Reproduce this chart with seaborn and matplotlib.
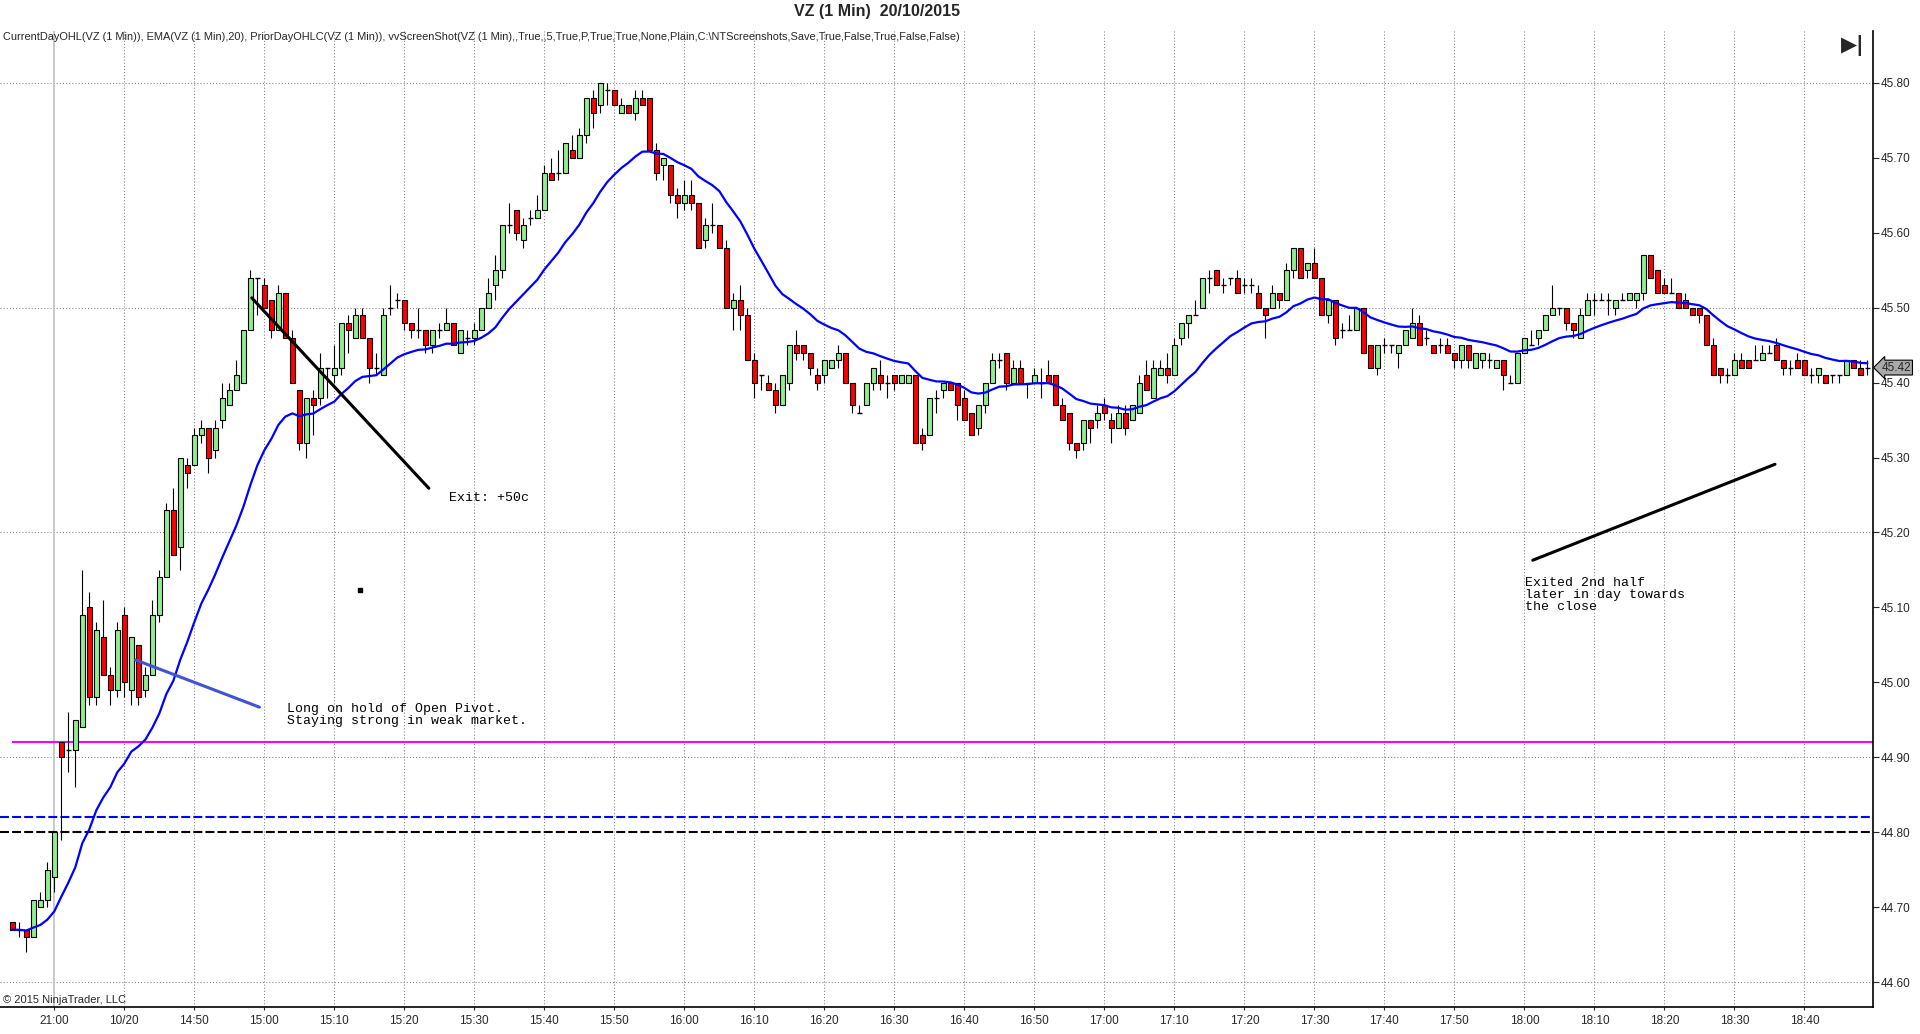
"""
VZ 1-minute candles for 20/10/2015 with EMA(20) and day levels,
redrawn in the style of the NinjaTrader screenshot.
"""

import numpy as np
import pandas as pd
import matplotlib
matplotlib.use("Agg")
import matplotlib.pyplot as plt
import matplotlib.transforms as mtransforms
import seaborn as sns

# ---- data (one entry per 1-minute bar) ----
opens = [
    44.68, 44.67, 44.67, 44.66, 44.70, 44.71, 44.74, 44.92, 44.91, 44.91,
    44.94, 45.10, 44.98, 45.06, 45.01, 44.99, 45.09, 44.99, 45.05, 44.99,
    45.01, 45.09, 45.14, 45.23, 45.18, 45.29, 45.29, 45.33, 45.34, 45.31,
    45.35, 45.37, 45.39, 45.40, 45.47, 45.54, 45.53, 45.51, 45.47, 45.52,
    45.46, 45.39, 45.32, 45.38, 45.38, 45.42, 45.41, 45.42, 45.48, 45.46,
    45.49, 45.46, 45.42, 45.41, 45.50, 45.51, 45.51, 45.48, 45.47, 45.47,
    45.45, 45.47, 45.47, 45.48, 45.44, 45.46, 45.46, 45.47, 45.50, 45.53,
    45.55, 45.61, 45.63, 45.59, 45.62, 45.62, 45.63, 45.68, 45.68, 45.68,
    45.71, 45.70, 45.73, 45.78, 45.77, 45.79, 45.79, 45.76, 45.77, 45.76,
    45.78, 45.78, 45.71, 45.69, 45.69, 45.65, 45.64, 45.65, 45.64, 45.59,
    45.61, 45.61, 45.58, 45.50, 45.51, 45.49, 45.43, 45.41, 45.40, 45.39,
    45.37, 45.40, 45.45, 45.45, 45.44, 45.41, 45.41, 45.42, 45.43, 45.44,
    45.40, 45.36, 45.37, 45.40, 45.41, 45.40, 45.41, 45.40, 45.40, 45.41,
    45.33, 45.33, 45.38, 45.39, 45.40, 45.40, 45.38, 45.36, 45.34, 45.37,
    45.40, 45.43, 45.44, 45.40, 45.42, 45.40, 45.40, 45.40, 45.41, 45.41,
    45.37, 45.36, 45.32, 45.32, 45.35, 45.35, 45.37, 45.35, 45.34, 45.36,
    45.35, 45.36, 45.41, 45.38, 45.41, 45.42, 45.41, 45.46, 45.48, 45.49,
    45.50, 45.54, 45.55, 45.53, 45.54, 45.54, 45.53, 45.53, 45.52, 45.50,
    45.50, 45.52, 45.51, 45.55, 45.58, 45.55, 45.56, 45.54, 45.49, 45.51,
    45.47, 45.47, 45.47, 45.50, 45.45, 45.42, 45.45, 45.45, 45.44, 45.45,
    45.46, 45.48, 45.46, 45.45, 45.45, 45.45, 45.44, 45.43, 45.45, 45.42,
    45.43, 45.43, 45.42, 45.43, 45.40, 45.40, 45.44, 45.45, 45.46, 45.47,
    45.49, 45.50, 45.50, 45.48, 45.46, 45.49, 45.51, 45.51, 45.51, 45.50,
    45.51, 45.51, 45.51, 45.52, 45.57, 45.55, 45.53, 45.52, 45.52, 45.51,
    45.50, 45.50, 45.49, 45.45, 45.42, 45.41, 45.41, 45.43, 45.43, 45.43,
    45.43, 45.44, 45.45, 45.43, 45.42, 45.43, 45.43, 45.41, 45.41, 45.41,
    45.41, 45.41, 45.41, 45.43, 45.42, 45.42,
]
highs = [
    44.68, 44.68, 44.67, 44.71, 44.72, 44.76, 44.80, 44.92, 44.96, 44.95,
    45.15, 45.12, 45.08, 45.11, 45.02, 45.08, 45.10, 45.06, 45.05, 45.02,
    45.11, 45.15, 45.24, 45.26, 45.30, 45.30, 45.34, 45.35, 45.34, 45.35,
    45.40, 45.40, 45.43, 45.47, 45.55, 45.54, 45.54, 45.51, 45.53, 45.52,
    45.47, 45.39, 45.38, 45.39, 45.44, 45.42, 45.45, 45.48, 45.49, 45.50,
    45.50, 45.46, 45.44, 45.50, 45.53, 45.52, 45.51, 45.48, 45.50, 45.47,
    45.47, 45.48, 45.50, 45.48, 45.47, 45.47, 45.48, 45.50, 45.54, 45.57,
    45.61, 45.64, 45.63, 45.62, 45.63, 45.65, 45.69, 45.70, 45.71, 45.72,
    45.73, 45.74, 45.78, 45.79, 45.80, 45.80, 45.79, 45.78, 45.77, 45.79,
    45.79, 45.78, 45.72, 45.70, 45.69, 45.66, 45.67, 45.67, 45.64, 45.62,
    45.64, 45.61, 45.59, 45.52, 45.53, 45.50, 45.44, 45.41, 45.41, 45.40,
    45.41, 45.45, 45.47, 45.45, 45.44, 45.42, 45.43, 45.43, 45.45, 45.44,
    45.40, 45.37, 45.40, 45.42, 45.43, 45.41, 45.41, 45.41, 45.41, 45.41,
    45.34, 45.38, 45.39, 45.40, 45.40, 45.40, 45.39, 45.36, 45.37, 45.40,
    45.44, 45.44, 45.44, 45.43, 45.43, 45.40, 45.42, 45.42, 45.43, 45.41,
    45.38, 45.36, 45.32, 45.35, 45.35, 45.37, 45.38, 45.36, 45.37, 45.37,
    45.37, 45.41, 45.43, 45.43, 45.43, 45.44, 45.46, 45.48, 45.49, 45.51,
    45.54, 45.55, 45.55, 45.54, 45.54, 45.55, 45.54, 45.54, 45.53, 45.50,
    45.53, 45.52, 45.56, 45.58, 45.58, 45.56, 45.58, 45.54, 45.51, 45.51,
    45.48, 45.49, 45.50, 45.50, 45.45, 45.45, 45.46, 45.45, 45.45, 45.47,
    45.50, 45.49, 45.47, 45.45, 45.46, 45.46, 45.44, 45.45, 45.45, 45.44,
    45.44, 45.44, 45.43, 45.43, 45.41, 45.44, 45.46, 45.47, 45.47, 45.49,
    45.53, 45.50, 45.50, 45.48, 45.50, 45.52, 45.52, 45.52, 45.52, 45.51,
    45.52, 45.52, 45.52, 45.57, 45.57, 45.55, 45.54, 45.54, 45.52, 45.52,
    45.50, 45.50, 45.49, 45.46, 45.42, 45.42, 45.44, 45.44, 45.43, 45.45,
    45.45, 45.45, 45.46, 45.43, 45.43, 45.44, 45.43, 45.42, 45.42, 45.41,
    45.41, 45.41, 45.43, 45.43, 45.43, 45.43,
]
lows = [
    44.67, 44.66, 44.64, 44.66, 44.70, 44.70, 44.72, 44.79, 44.88, 44.86,
    44.94, 44.97, 44.97, 45.01, 44.97, 44.98, 44.98, 44.97, 44.97, 44.98,
    45.01, 45.08, 45.14, 45.17, 45.15, 45.26, 45.29, 45.32, 45.28, 45.30,
    45.34, 45.37, 45.39, 45.40, 45.47, 45.49, 45.50, 45.46, 45.47, 45.46,
    45.40, 45.31, 45.30, 45.33, 45.37, 45.38, 45.40, 45.41, 45.44, 45.46,
    45.46, 45.40, 45.41, 45.41, 45.49, 45.50, 45.47, 45.46, 45.46, 45.44,
    45.44, 45.46, 45.47, 45.45, 45.44, 45.45, 45.45, 45.47, 45.50, 45.51,
    45.54, 45.60, 45.59, 45.58, 45.61, 45.62, 45.63, 45.67, 45.67, 45.68,
    45.70, 45.70, 45.72, 45.74, 45.76, 45.77, 45.77, 45.76, 45.76, 45.75,
    45.77, 45.71, 45.67, 45.67, 45.64, 45.62, 45.63, 45.63, 45.58, 45.58,
    45.60, 45.58, 45.50, 45.47, 45.47, 45.43, 45.38, 45.39, 45.39, 45.36,
    45.37, 45.39, 45.43, 45.43, 45.41, 45.39, 45.40, 45.42, 45.42, 45.40,
    45.36, 45.36, 45.37, 45.39, 45.39, 45.38, 45.39, 45.40, 45.40, 45.32,
    45.31, 45.33, 45.36, 45.38, 45.39, 45.35, 45.35, 45.33, 45.33, 45.36,
    45.40, 45.42, 45.39, 45.40, 45.40, 45.38, 45.40, 45.38, 45.40, 45.37,
    45.35, 45.31, 45.30, 45.31, 45.32, 45.34, 45.35, 45.32, 45.34, 45.33,
    45.35, 45.36, 45.39, 45.38, 45.41, 45.40, 45.41, 45.45, 45.46, 45.49,
    45.50, 45.52, 45.53, 45.52, 45.53, 45.52, 45.52, 45.52, 45.50, 45.46,
    45.50, 45.50, 45.51, 45.54, 45.54, 45.54, 45.54, 45.49, 45.48, 45.45,
    45.46, 45.47, 45.47, 45.44, 45.42, 45.41, 45.44, 45.44, 45.42, 45.45,
    45.46, 45.45, 45.45, 45.44, 45.44, 45.44, 45.42, 45.42, 45.42, 45.42,
    45.42, 45.42, 45.42, 45.39, 45.40, 45.40, 45.44, 45.45, 45.45, 45.47,
    45.49, 45.49, 45.47, 45.46, 45.46, 45.49, 45.49, 45.51, 45.49, 45.49,
    45.51, 45.51, 45.50, 45.51, 45.54, 45.52, 45.52, 45.52, 45.50, 45.50,
    45.49, 45.48, 45.45, 45.41, 45.40, 45.40, 45.41, 45.42, 45.42, 45.43,
    45.43, 45.44, 45.43, 45.41, 45.41, 45.42, 45.41, 45.40, 45.40, 45.40,
    45.40, 45.40, 45.41, 45.42, 45.41, 45.41,
]
closes = [
    44.67, 44.67, 44.66, 44.71, 44.71, 44.75, 44.80, 44.90, 44.91, 44.95,
    45.09, 44.98, 45.07, 45.01, 44.99, 45.07, 45.00, 45.06, 44.98, 45.01,
    45.09, 45.14, 45.23, 45.17, 45.30, 45.28, 45.33, 45.34, 45.30, 45.34,
    45.38, 45.39, 45.41, 45.47, 45.54, 45.54, 45.50, 45.47, 45.52, 45.46,
    45.40, 45.32, 45.38, 45.37, 45.42, 45.42, 45.42, 45.48, 45.47, 45.49,
    45.46, 45.42, 45.42, 45.49, 45.50, 45.51, 45.48, 45.47, 45.47, 45.45,
    45.47, 45.47, 45.48, 45.45, 45.47, 45.46, 45.47, 45.50, 45.52, 45.55,
    45.61, 45.61, 45.60, 45.61, 45.62, 45.63, 45.68, 45.67, 45.68, 45.72,
    45.70, 45.73, 45.78, 45.76, 45.80, 45.79, 45.77, 45.77, 45.76, 45.78,
    45.77, 45.71, 45.68, 45.70, 45.65, 45.64, 45.65, 45.64, 45.58, 45.61,
    45.61, 45.58, 45.50, 45.51, 45.49, 45.43, 45.40, 45.41, 45.39, 45.37,
    45.41, 45.45, 45.44, 45.44, 45.42, 45.40, 45.43, 45.43, 45.44, 45.40,
    45.37, 45.36, 45.40, 45.42, 45.40, 45.40, 45.40, 45.41, 45.41, 45.32,
    45.32, 45.38, 45.38, 45.40, 45.39, 45.37, 45.35, 45.33, 45.37, 45.40,
    45.43, 45.43, 45.40, 45.42, 45.40, 45.40, 45.41, 45.40, 45.40, 45.37,
    45.35, 45.32, 45.31, 45.35, 45.34, 45.36, 45.36, 45.34, 45.36, 45.34,
    45.37, 45.40, 45.39, 45.42, 45.42, 45.41, 45.45, 45.48, 45.49, 45.49,
    45.54, 45.54, 45.53, 45.53, 45.54, 45.52, 45.53, 45.53, 45.50, 45.49,
    45.52, 45.51, 45.55, 45.58, 45.54, 45.56, 45.54, 45.49, 45.51, 45.46,
    45.47, 45.47, 45.50, 45.44, 45.42, 45.45, 45.45, 45.45, 45.45, 45.47,
    45.48, 45.45, 45.46, 45.44, 45.45, 45.44, 45.43, 45.45, 45.43, 45.44,
    45.44, 45.43, 45.43, 45.41, 45.40, 45.44, 45.46, 45.45, 45.47, 45.49,
    45.50, 45.50, 45.48, 45.47, 45.49, 45.51, 45.51, 45.51, 45.51, 45.51,
    45.51, 45.52, 45.52, 45.57, 45.54, 45.52, 45.52, 45.52, 45.50, 45.50,
    45.49, 45.49, 45.45, 45.41, 45.41, 45.41, 45.43, 45.42, 45.42, 45.43,
    45.44, 45.44, 45.43, 45.42, 45.42, 45.42, 45.41, 45.41, 45.42, 45.40,
    45.41, 45.41, 45.43, 45.42, 45.41, 45.42,
]

# x-axis labels, one every 10 bars starting at the prior-day close bar
time_labels = ['21:00', '10/20', '14:50', '15:00', '15:10', '15:20', '15:30',
               '15:40', '15:50', '16:00', '16:10', '16:20', '16:30', '16:40',
               '16:50', '17:00', '17:10', '17:20', '17:30', '17:40', '17:50',
               '18:00', '18:10', '18:20', '18:30', '18:40']
first_label_bar = 6

# day levels
current_open = 44.92
prior_level = 44.82
prior_close = 44.80
last_price = 45.42

# hand-drawn annotations (bar, price)
exit_line_1 = ([34.2, 59.5], [45.513, 45.259])
entry_line = ([17.6, 35.3], [45.030, 44.967])
exit_line_2 = ([217.2, 251.8], [45.163, 45.291])

indicator_text = ("CurrentDayOHL(VZ (1 Min)), EMA(VZ (1 Min),20), PriorDayOHLC(VZ (1 Min)), "
                  "vvScreenShot(VZ (1 Min),,True,,5,True,P,True,True,None,Plain,"
                  "C:\\NTScreenshots,Save,True,False,True,False,False)")

# ---- styling ----
sns.set_style("white")
plt.rcParams['font.family'] = ['Liberation Sans', 'DejaVu Sans']

df = pd.DataFrame({'open': opens, 'high': highs, 'low': lows, 'close': closes})
df['bar'] = np.arange(len(df))
df['ema'] = df['close'].ewm(span=20, adjust=False).mean()

fig = plt.figure(figsize=(19.2, 10.34), dpi=100)
ax = fig.add_axes([0.0, 27 / 1034, 1873 / 1920, 976 / 1034])

# grid
price_ticks = np.round(np.arange(44.60, 45.81, 0.10), 2)
label_bars = np.arange(first_label_bar, first_label_bar + 10 * len(time_labels), 10)
for p in price_ticks[::3]:
    ax.axhline(p, color='#808080', lw=0.75, ls=(0, (1, 2)), zorder=1)
for k, b in enumerate(label_bars):
    if k == 0:
        ax.axvline(b, color='#C0C0C0', lw=1.2, zorder=1)
    else:
        ax.axvline(b, color='#808080', lw=0.75, ls=(0, (1, 2)), zorder=1)

# day levels
ax.hlines(current_open, 0, len(df) + 2, color='#FF00FF', lw=1.5, zorder=2)
ax.axhline(prior_level, color='#0000FF', lw=1.5, ls=(0, (4.3, 1.5)), zorder=2)
ax.axhline(prior_close, color='black', lw=1.5, ls=(0, (4.3, 1.5)), zorder=2)

# candles
up = df[df['close'] > df['open']]
down = df[df['close'] < df['open']]
flat = df[df['close'] == df['open']]
body_w = 0.65
ax.vlines(df['bar'], df['low'], df['high'], color='black', lw=0.8, zorder=3)
ax.bar(up['bar'], up['close'] - up['open'], bottom=up['open'], width=body_w,
       color='#90EE90', edgecolor='black', linewidth=0.8, zorder=4)
ax.bar(down['bar'], down['open'] - down['close'], bottom=down['close'], width=body_w,
       color='#FF0000', edgecolor='black', linewidth=0.8, zorder=4)
ax.hlines(flat['open'], flat['bar'] - body_w / 2, flat['bar'] + body_w / 2,
          color='black', lw=1.0, zorder=4)

# EMA(20)
sns.lineplot(data=df, x='bar', y='ema', color='#0000FF', lw=1.6, ax=ax, zorder=5)

# annotations
ax.plot(*exit_line_1, color='black', lw=2.2, zorder=6)
ax.plot(*entry_line, color='#4152D6', lw=2.2, zorder=6)
ax.plot(*exit_line_2, color='black', lw=2.2, zorder=6)
ax.plot([49.7], [45.123], marker='s', ms=2.2, color='black', zorder=6)
mono = dict(family=['Liberation Mono', 'DejaVu Sans Mono'], fontsize=9.5, color='black')
ax.text(62.4, 45.246, 'Exit: +50c', va='center', ha='left', **mono)
ax.text(39.2, 44.957, 'Long on hold of Open Pivot.\nStaying strong in weak market.',
        va='center', ha='left', linespacing=1.0, **mono)
ax.text(216.1, 45.116, 'Exited 2nd half\nlater in day towards\nthe close',
        va='center', ha='left', linespacing=1.0, **mono)

# axes
ax.set_xlim(-1.76, 265.8)
ax.set_ylim(44.567, 45.869)
ax.set_xlabel('')
ax.set_ylabel('')
ax.set_xticks(label_bars)
ax.set_xticklabels(time_labels, fontsize=8.5)
ax.yaxis.tick_right()
ax.set_yticks(price_ticks)
ax.set_yticklabels([f'{p:.2f}' for p in price_ticks], fontsize=8.5)
ax.tick_params(axis='y', direction='out', length=4.5, width=0.8, pad=0.8, right=True, left=False)
ax.tick_params(axis='x', direction='out', length=2.5, width=0.8, pad=3.5, bottom=True)
for side in ['left', 'top']:
    ax.spines[side].set_visible(False)
for side in ['right', 'bottom']:
    ax.spines[side].set_color('black')
    ax.spines[side].set_linewidth(1.2)

# last price marker on the price axis
trans = mtransforms.blended_transform_factory(ax.transAxes, ax.transData)
ax.text(1.0045, last_price, f'{last_price:.2f}', transform=trans, fontsize=8.5,
        ha='left', va='center', clip_on=False,
        bbox=dict(boxstyle='larrow,pad=0.12', fc='#A9A9A9', ec='black', lw=0.8))

# header texts
fig.text(0.457, 0.989, 'VZ (1 Min)  20/10/2015', ha='center', va='center',
         fontsize=11.5, fontweight='bold')
fig.text(0.0015, 1 - 37 / 1034, indicator_text, ha='left', va='center', fontsize=7.9)
fig.text(1853 / 1920, 1 - 45 / 1034, '\u25B6|', ha='center', va='center', fontsize=15,
         fontweight='bold', family=['DejaVu Sans'])
fig.text(3 / 1920, 1 - 1005 / 1034, '\u00A9 2015 NinjaTrader, LLC', ha='left', va='bottom',
         fontsize=8)

plt.savefig('out.png', dpi=100)
plt.close()
